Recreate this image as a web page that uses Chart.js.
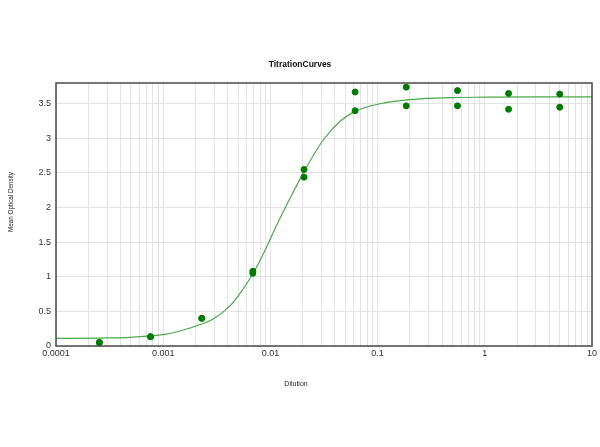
<!DOCTYPE html>
<html>
<head>
<meta charset="utf-8">
<script src="https://cdn.jsdelivr.net/npm/chart.js@4/dist/chart.umd.min.js"></script>
<style>
    html, body { margin: 0; padding: 0; background: #fff; }
    #wrap { width: 600px; height: 447px; }
</style>
</head>
<body>
<div id="wrap"><canvas id="titration-chart"></canvas></div>
<script>
// measured points (two replicates per dilution)
const dilutions = [0.000254, 0.000762, 0.00229, 0.00686, 0.0206, 0.0617, 0.185, 0.556, 1.667, 5];
const odRep1 = [0.05, 0.135, 0.40, 1.08, 2.55, 3.67, 3.74, 3.69, 3.65, 3.64];
const odRep2 = [0.05, 0.135, 0.40, 1.05, 2.44, 3.40, 3.47, 3.47, 3.42, 3.45];

// fitted curve
const fitX = [0.0001, 0.00025, 0.0005, 0.00076, 0.001, 0.00144, 0.00229, 0.00293, 0.0042, 0.005, 0.00684, 0.0089, 0.011, 0.0152, 0.0206, 0.0312, 0.045, 0.0615, 0.105, 0.2, 0.5, 1, 3, 10];
const fitY = [0.11, 0.115, 0.125, 0.145, 0.165, 0.217, 0.318, 0.39, 0.58, 0.72, 1.04, 1.38, 1.69, 2.13, 2.52, 2.98, 3.25, 3.39, 3.50, 3.56, 3.59, 3.595, 3.60, 3.60];

const xTickLabels = ['0.0001', '0.001', '0.01', '0.1', '1', '10'];
const yTickLabels = ['0', '0.5', '1', '1.5', '2', '2.5', '3', '3.5'];

const chartTitle = 'TitrationCurves';
const xTitle = 'Dilution';
const yTitle = 'Mean Optical Density';

const fontFamily = '"Liberation Sans", Arial, sans-serif';

function toPoints(xs, ys) {
    return xs.map((x, i) => ({ x: x, y: ys[i] }));
}

// log grid: every 1..9 x 10^n between the labelled decades
function logTickValues() {
    var vals = [];
    xTickLabels.forEach((l, i) => {
        var base = parseFloat(l);
        if (i === xTickLabels.length - 1) {
            vals.push(base);
            return;
        }
        for (var m = 1; m < 10; m++) {
            vals.push(parseFloat((base * m).toPrecision(6)));
        }
    });
    return vals;
}

// box round the plot plus the three titles, placed like the original
const frame = {
    id: 'frame',
    afterDatasetsDraw(chart) {
        const a = chart.chartArea;
        const ctx = chart.ctx;
        ctx.save();
        ctx.strokeStyle = '#4a4a4a';
        ctx.lineWidth = 1.5;
        ctx.strokeRect(a.left, a.top, a.right - a.left, a.bottom - a.top);
        ctx.restore();
    },
    afterDraw(chart) {
        const ctx = chart.ctx;
        ctx.save();
        ctx.textAlign = 'center';
        ctx.textBaseline = 'middle';
        ctx.fillStyle = '#111';
        ctx.font = 'bold 8.5px ' + fontFamily;
        ctx.fillText(chartTitle, 300, 65);

        ctx.fillStyle = '#222';
        ctx.font = '7px ' + fontFamily;
        ctx.fillText(xTitle, 296, 384);

        ctx.translate(11, 202);
        ctx.rotate(-Math.PI / 2);
        ctx.font = '6.3px ' + fontFamily;
        ctx.fillText(yTitle, 0, 0);
        ctx.restore();
    }
};

const config = {
    type: 'scatter',
    data: {
        datasets: [
            {
                type: 'line',
                label: 'Fit',
                data: toPoints(fitX, fitY),
                borderColor: '#4aa84a',
                borderWidth: 1.2,
                pointRadius: 0,
                fill: false,
                cubicInterpolationMode: 'monotone',
                order: 2
            },
            {
                label: 'Replicate 1',
                data: toPoints(dilutions, odRep1),
                backgroundColor: '#007a00',
                borderColor: '#007a00',
                pointRadius: 3,
                order: 1
            },
            {
                label: 'Replicate 2',
                data: toPoints(dilutions, odRep2),
                backgroundColor: '#007a00',
                borderColor: '#007a00',
                pointRadius: 3,
                order: 1
            }
        ]
    },
    options: {
        responsive: true,
        maintainAspectRatio: false,
        animation: false,
        layout: {
            padding: { left: 0, right: 8, top: 83, bottom: 57 }
        },
        plugins: {
            legend: { display: false },
            tooltip: { enabled: false },
            title: { display: false }
        },
        scales: {
            x: {
                type: 'logarithmic',
                min: 0.0001,
                max: 10,
                afterBuildTicks: function (scale) {
                    scale.ticks = logTickValues().map(v => ({ value: v }));
                },
                afterFit: function (scale) {
                    scale.height = 44;
                },
                ticks: {
                    autoSkip: false,
                    maxRotation: 0,
                    padding: 2,
                    color: '#333',
                    font: { family: fontFamily, size: 9 },
                    callback: function (value) {
                        var idx = xTickLabels.findIndex(l => Math.abs(parseFloat(l) - value) < parseFloat(l) * 1e-6);
                        return idx >= 0 ? xTickLabels[idx] : '';
                    }
                },
                grid: {
                    color: '#e3e3e3',
                    lineWidth: 1,
                    drawTicks: false
                },
                border: { display: false }
            },
            y: {
                min: 0,
                max: 3.8,
                afterFit: function (scale) {
                    scale.width = 56;
                },
                ticks: {
                    stepSize: 0.5,
                    includeBounds: false,
                    padding: 5,
                    color: '#333',
                    font: { family: fontFamily, size: 9 },
                    callback: function (value) {
                        var idx = Math.round(value / 0.5);
                        return yTickLabels[idx] !== undefined ? yTickLabels[idx] : '';
                    }
                },
                grid: {
                    color: '#e3e3e3',
                    lineWidth: 1,
                    drawTicks: false
                },
                border: { display: false }
            }
        }
    },
    plugins: [frame]
};

const titrationChart = new Chart(document.getElementById('titration-chart'), config);
</script>
</body>
</html>
